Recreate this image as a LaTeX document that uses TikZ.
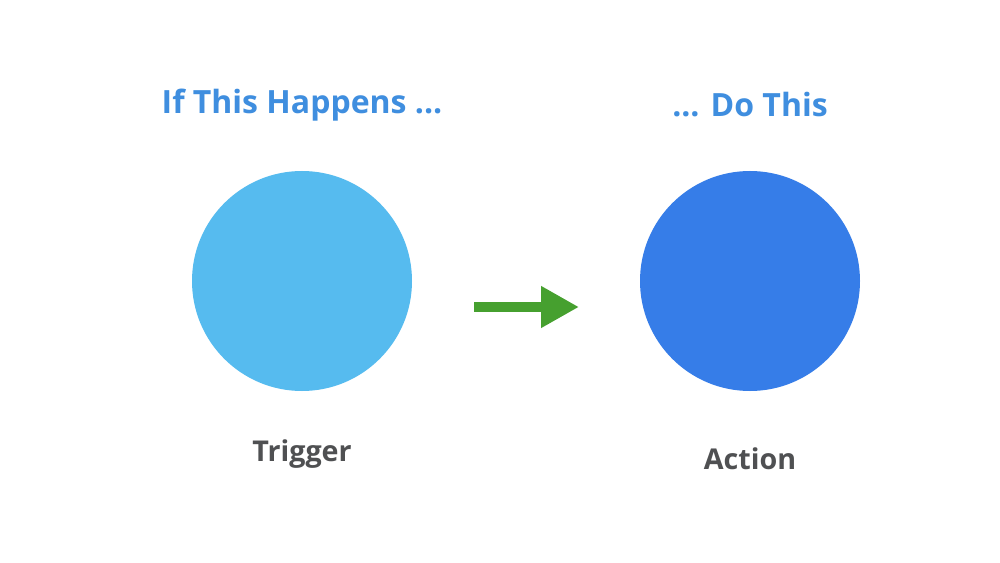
\documentclass[tikz,border=0pt]{standalone}
\usepackage{fontspec}
\setmainfont{Open Sans}[Ligatures=NoCommon]
\usetikzlibrary{arrows.meta}
\definecolor{trigblue}{HTML}{56BBEF}
\definecolor{actblue}{HTML}{367DE8}
\definecolor{titleblue}{HTML}{3F8EDF}
\definecolor{labelgray}{HTML}{4F5052}
\definecolor{arrowgreen}{HTML}{46A02F}
\tikzset{
  bubble/.style={circle, minimum size=165pt, inner sep=0pt},
  heading/.style={text=titleblue, font=\fontsize{24}{28}\selectfont\bfseries, inner sep=0pt},
  caption/.style={text=labelgray, font=\fontsize{21.5}{25}\selectfont\bfseries, inner sep=0pt},
  flow/.style={draw=arrowgreen, line width=7.5pt, -{Triangle[length=28.5pt,width=29.5pt]}}
}
\begin{document}
\begin{tikzpicture}[x=0.75pt, y=-0.75pt]
\useasboundingbox[fill=white] (0,0) rectangle (1000,563);
\node[bubble, fill=trigblue] (trigger) at (302,281) {};
\node[bubble, fill=actblue] (action) at (750,281) {};
\node[heading] (h1) at (302,105) {If This Happens ...};
\node[heading] (h2) at (750,105) {... Do This};
\node[caption] (c1) at (302,454) {Trigger};
\node[caption] (c2) at (750,459) {Action};
\coordinate (as) at (474,307);
\coordinate (ae) at (579,307);
\draw[flow] (as) -- (ae);
\end{tikzpicture}
\end{document}
